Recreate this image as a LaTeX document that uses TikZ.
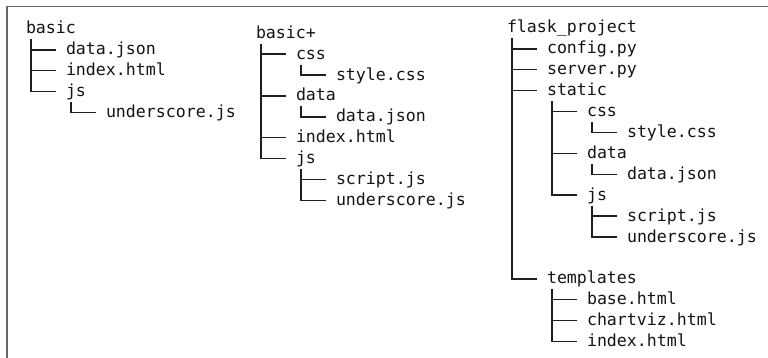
\documentclass[tikz,border=0pt]{standalone}
\usepackage{fontspec}
\newfontfamily\treefont{DejaVu Sans Mono}
\tikzset{
  file/.style={anchor=base west, inner sep=0pt, outer sep=0pt, font=\treefont\fontsize{16.6}{20}\selectfont, text=black!92},
  tree/.style={line width=1.4pt, draw=black!88},
  frameline/.style={line width=1.6pt, draw=black!60}
}
\newcommand\branch[2]{\draw[tree] ([xshift=5pt,yshift=-5.5pt]#1.base west) |- ([xshift=-10pt,yshift=5pt]#2.base west);}
\begin{document}
\begin{tikzpicture}[x=1pt,y=-1pt]
\useasboundingbox (0,0) rectangle (768,358);
\draw[frameline] (7,358) -- (7,6.5) -- (768,6.5);
% column 1
\def\ya{34}\def\dy{20.9}
\node[file] (a0) at (26,\ya+0*\dy) {basic};
\node[file] (a1) at (66,\ya+1*\dy) {data.json};
\node[file] (a2) at (66,\ya+2*\dy) {index.html};
\node[file] (a3) at (66,\ya+3*\dy) {js};
\node[file] (a4) at (106,\ya+4*\dy) {underscore.js};
\branch{a0}{a1}\branch{a0}{a2}\branch{a0}{a3}
\branch{a3}{a4}
% column 2
\def\yb{38.3}
\node[file] (b0) at (256,\yb+0*\dy) {basic+};
\node[file] (b1) at (296,\yb+1*\dy) {css};
\node[file] (b2) at (336,\yb+2*\dy) {style.css};
\node[file] (b3) at (296,\yb+3*\dy) {data};
\node[file] (b4) at (336,\yb+4*\dy) {data.json};
\node[file] (b5) at (296,\yb+5*\dy) {index.html};
\node[file] (b6) at (296,\yb+6*\dy) {js};
\node[file] (b7) at (336,\yb+7*\dy) {script.js};
\node[file] (b8) at (336,\yb+8*\dy) {underscore.js};
\branch{b0}{b1}\branch{b0}{b3}\branch{b0}{b5}\branch{b0}{b6}
\branch{b1}{b2}\branch{b3}{b4}\branch{b6}{b7}\branch{b6}{b8}
% column 3
\def\yc{33}
\node[file] (c0) at (507,\yc+0*\dy) {flask\_project};
\node[file] (c1) at (547,\yc+1*\dy) {config.py};
\node[file] (c2) at (547,\yc+2*\dy) {server.py};
\node[file] (c3) at (547,\yc+3*\dy) {static};
\node[file] (c4) at (587,\yc+4*\dy) {css};
\node[file] (c5) at (627,\yc+5*\dy) {style.css};
\node[file] (c6) at (587,\yc+6*\dy) {data};
\node[file] (c7) at (627,\yc+7*\dy) {data.json};
\node[file] (c8) at (587,\yc+8*\dy) {js};
\node[file] (c9) at (627,\yc+9*\dy) {script.js};
\node[file] (c10) at (627,\yc+10*\dy) {underscore.js};
\node[file] (c12) at (547,\yc+12*\dy) {templates};
\node[file] (c13) at (587,\yc+13*\dy) {base.html};
\node[file] (c14) at (587,\yc+14*\dy) {chartviz.html};
\node[file] (c15) at (587,\yc+15*\dy) {index.html};
\branch{c0}{c1}\branch{c0}{c2}\branch{c0}{c3}\branch{c0}{c12}
\branch{c3}{c4}\branch{c3}{c6}\branch{c3}{c8}
\branch{c4}{c5}\branch{c6}{c7}
\branch{c8}{c9}\branch{c8}{c10}
\branch{c12}{c13}\branch{c12}{c14}\branch{c12}{c15}
\end{tikzpicture}
\end{document}
